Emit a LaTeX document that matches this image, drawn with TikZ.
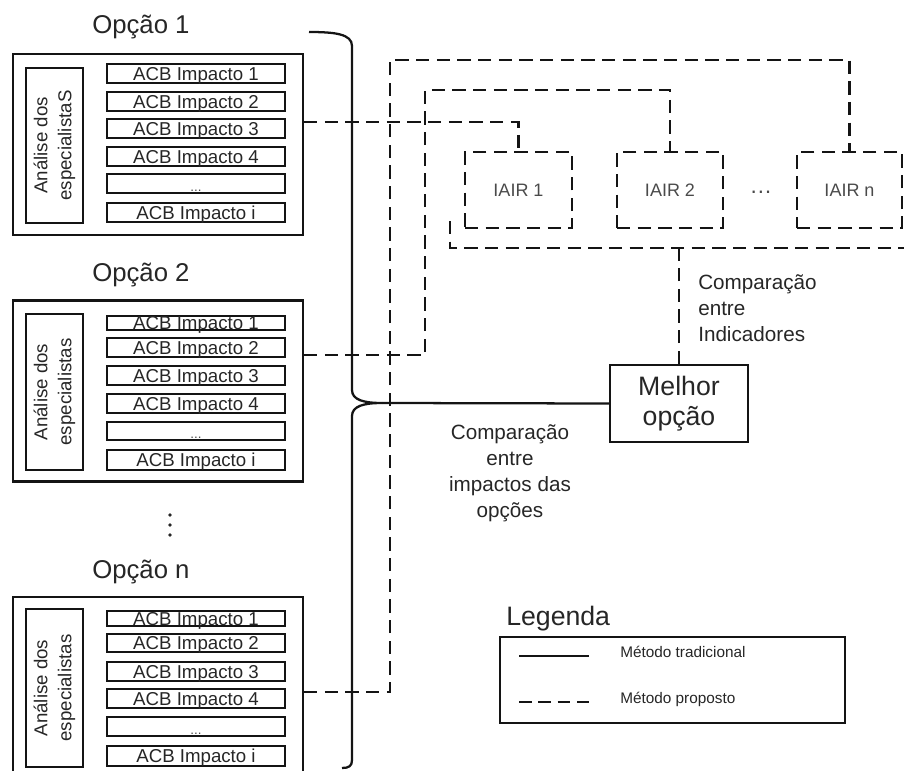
\documentclass[tikz,border=0pt]{standalone}
\usepackage{fontspec}
\setmainfont{Liberation Sans}
\usetikzlibrary{calc}
\definecolor{txt}{HTML}{262626}
\definecolor{txtl}{HTML}{4A4A4A}
\definecolor{ln}{HTML}{141414}
\newcommand\fsz[2]{\fontsize{#1}{#2}\selectfont}
\tikzset{
  solidln/.style={draw=ln, line width=1.7pt},
  dl/.style={draw=ln, line width=1.8pt, dash pattern=on 10pt off 5.5pt},
  outerbox/.style={solidln, rectangle, inner sep=0pt, minimum width=217.5pt, minimum height=135.75pt},
  anabox/.style={solidln, rectangle, inner sep=0pt, minimum height=42.75pt, rotate=90,
    text=txt, font=\fsz{14}{18}, align=center},
  imp/.style={solidln, rectangle, inner sep=0pt, minimum width=133.5pt,
    text height=10pt, text depth=0pt, text=txt, font=\fsz{14}{16}},
  iair/.style={dl, rectangle, inner sep=0pt, minimum height=57pt, text=txtl, font=\fsz{13.5}{16}},
  opttitle/.style={anchor=base west, inner sep=0pt, text=txt, font=\fsz{19.3}{22}},
  lbl/.style={inner sep=0pt, text=txt, font=\fsz{15.5}{19.5}},
  legtxt/.style={anchor=base west, inner sep=0pt, text=txt, font=\fsz{11.5}{14}},
}
\newcommand\improw[4]{\node[imp, minimum height={(#3-#2)*0.75pt}] (#1) at (196,{(#2+#3)/2}) {#4};}
\newcommand\dotrow[3]{\node[imp, minimum height={(#3-#2)*0.75pt}] (#1) at (196,{(#2+#3)/2}) {};
  \node[inner sep=0pt, anchor=south, text=txtl, font=\fsz{10}{11}] (#1d) at ([yshift=2pt]#1.south) {...};}
\begin{document}
\begin{tikzpicture}[x=0.75pt, y=-0.75pt]
\useasboundingbox (0,0) rectangle (904,771);
\clip (0,0) rectangle (904,771);

% ---------- Option 1
\node[opttitle] (t1) at (92,33) {Opção 1};
\node[outerbox] (o1) at (158,144.5) {};
\node[anabox, minimum width=116.25pt] (a1) at (54.5,145.5) {Análise dos\\especialistaS};
\improw{r11}{64}{83}{ACB Impacto 1}
\improw{r12}{92}{111}{ACB Impacto 2}
\improw{r13}{119}{138}{ACB Impacto 3}
\improw{r14}{147}{166}{ACB Impacto 4}
\dotrow{r15}{174}{193}
\improw{r16}{203}{222}{ACB Impacto i}

% ---------- Option 2
\node[opttitle] (t2) at (92,281) {Opção 2};
\node[outerbox] (o2) at (158,391) {};
\node[anabox, minimum width=117pt] (a2) at (54.5,392) {Análise dos\\especialistas};
\improw{r21}{316}{330}{ACB Impacto 1}
\improw{r22}{338}{357}{ACB Impacto 2}
\improw{r23}{366}{385}{ACB Impacto 3}
\improw{r24}{394}{413}{ACB Impacto 4}
\dotrow{r25}{422}{440}
\improw{r26}{450}{470}{ACB Impacto i}

% vertical ellipsis
\fill[txt] (170,515) circle (1.4pt) (170,525) circle (1.4pt) (170,535) circle (1.4pt);

% ---------- Option n
\node[opttitle] (tn) at (92,578) {Opção n};
\node[outerbox] (on) at (158,687.5) {};
\node[anabox, minimum width=118.5pt] (an) at (54.5,688) {Análise dos\\especialistas};
\improw{rn1}{611}{626}{ACB Impacto 1}
\improw{rn2}{634}{652}{ACB Impacto 2}
\improw{rn3}{662}{681}{ACB Impacto 3}
\improw{rn4}{689}{708}{ACB Impacto 4}
\dotrow{rn5}{717}{736}
\improw{rn6}{746}{766}{ACB Impacto i}

% ---------- IAIR boxes
\node[iair, minimum width=80.25pt] (ia1) at (518.5,190) {IAIR 1};
\node[iair, minimum width=79.5pt] (ia2) at (670,190) {IAIR 2};
\node[inner sep=0pt, text=txtl, font=\fsz{17}{18}] (el) at (761,192) {\ldots};
\node[iair, minimum width=78.75pt] (ian) at (849.5,190) {IAIR n};

% ---------- Best option
\node[solidln, rectangle, inner sep=0pt, minimum width=103.5pt, minimum height=57.75pt,
  align=center, text=txt, font=\fsz{20}{23}] (mo) at (679,403.5) {Melhor\\opção};

% brace (traditional method)
\draw[solidln] (309,32) .. controls (335,32) and (352,34) .. (352,46)
  -- (352,390) .. controls (352,400) and (364,403) .. (382,403) coordinate (bt)
  .. controls (364,403) and (352,406) .. (352,416)
  -- (352,760) .. controls (352,766) and (349,768) .. (342,768);
\draw[solidln] (bt) -- (mo.west);

% dashed connectors (proposed method)
\draw[dl] (o1.east |- 0,122) -| (ia1.north);
\draw[dl] (o2.east |- 0,355) -| (425,90) -| (ia2.north);
\draw[dl] (on.east |- 0,692) -| (390,60) -| (ian.north);
\coordinate (g1) at (450,221);
\coordinate (g2) at (910,248);
\draw[dl] (g1) |- (g2);
\draw[dl] (mo.north) -- (mo.north |- g2);

% labels
\node[lbl, anchor=west, align=left] (c1) at (698,308) {Comparação\\entre\\Indicadores};
\node[lbl, align=center] (c2) at (510,473) {Comparação\\entre\\impactos das\\opções};

% ---------- Legend
\node[opttitle, font=\fsz{20}{22}] (lg) at (506,625) {Legenda};
\node[solidln, rectangle, inner sep=0pt, minimum width=258.75pt, minimum height=64.5pt] (lgb) at (672.5,680) {};
\coordinate (s1a) at (519,656);
\coordinate (s1b) at (589,656);
\draw[solidln] (s1a) -- (s1b);
\node[legtxt] (l1) at (620,657) {Método tradicional};
\coordinate (s2a) at (519,702);
\coordinate (s2b) at (589,702);
\draw[dl, dash pattern=on 9.5pt off 5pt] (s2a) -- (s2b);
\node[legtxt] (l2) at (620,703) {Método proposto};
\end{tikzpicture}
\end{document}
